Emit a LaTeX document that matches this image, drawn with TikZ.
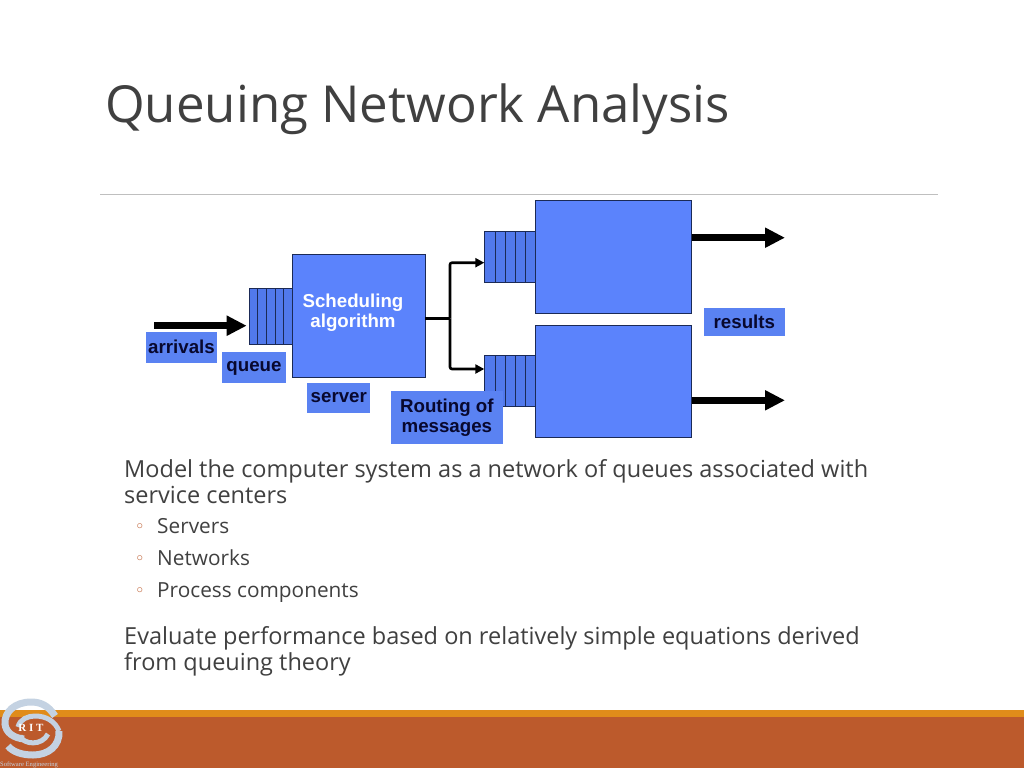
\documentclass[tikz,border=0pt]{standalone}
\usepackage{fontspec}
\setmainfont{Open Sans}
\newfontfamily\labelfont{Liberation Sans}
\newfontfamily\markfont{DejaVu Sans}
\newfontfamily\logofont{Liberation Serif}
\usetikzlibrary{arrows.meta}
\definecolor{boxblue}{HTML}{5B83FC}
\definecolor{queueblue}{HTML}{5179EC}
\definecolor{tagblue}{HTML}{5A82F2}
\definecolor{edgenavy}{HTML}{1B2A56}
\definecolor{tagtext}{HTML}{08082E}
\definecolor{bodygray}{HTML}{404040}
\definecolor{rust}{HTML}{BC5A2C}
\definecolor{bandorange}{HTML}{E08C1A}
\definecolor{logogray}{HTML}{C4D2E2}
\tikzset{
  srvbox/.style={draw=edgenavy,line width=1pt,fill=boxblue,inner sep=0,outer sep=0,anchor=north west},
  qbox/.style={draw=edgenavy,line width=1pt,fill=queueblue,inner sep=0,outer sep=0,anchor=north west},
  tag/.style={fill=tagblue,text=tagtext,inner sep=0,outer sep=0,anchor=north west,align=center,font=\labelfont\bfseries\fontsize{18.7}{20}\selectfont},
  fatarrow/.style={line width=6.5pt,-{Triangle[length=20pt,width=19pt]}},
  thinarrow/.style={line width=2.6pt,-{Triangle[length=9pt,width=9pt]}},
  bodytext/.style={anchor=base west,inner sep=0,text=bodygray,align=left,font=\fontsize{23.5}{26}\selectfont},
  subtext/.style={anchor=base west,inner sep=0,text=bodygray,font=\fontsize{20.8}{24}\selectfont},
  bullet/.style={anchor=base,inner sep=0,text=rust,font=\markfont\fontsize{17}{18}\selectfont},
  logoband/.style={logogray,line width=7pt},
  logoinner/.style={logogray,line width=5pt}
}
\begin{document}
\begin{tikzpicture}[x=1pt,y=-1pt]
\useasboundingbox (0,0) rectangle (1024,768);
\fill[white] (0,0) rectangle (1024,768);
% title
\node[anchor=base west,inner sep=0,text=bodygray,font=\fontsize{51}{56}\selectfont] (title) at (105,122){Queuing Network Analysis};
\draw[color=black!25,line width=1pt] (100,194.5)--(938,194.5);
% footer
\fill[bandorange] (0,710) rectangle (1024,716.5);
\fill[rust] (0,716.5) rectangle (1024,768);
% logo
\draw[logoband] (55,716) .. controls (48,705) and (40,702) .. (31,702) .. controls (15,702) and (4,712) .. (5,724) .. controls (6,733) and (14,738) .. (24,739);
\draw[logoinner] (18,727) .. controls (20,719) and (28,716) .. (35,716) .. controls (46,716) and (55,721) .. (59,731);
\draw[logoband] (59,731) .. controls (60,746) and (48,755) .. (33,755) .. controls (22,755) and (13,752) .. (8,746);
\draw[logoinner] (20,736) .. controls (24,745) and (42,746) .. (48,734);
\node[text=white,inner sep=0,font=\logofont\bfseries\fontsize{11}{12}\selectfont] (rit) at (31,728){R I T};
\node[anchor=base west,text=logogray,inner sep=0,font=\logofont\fontsize{6.6}{8}\selectfont] (dept) at (0,766){Software Engineering};
% servers
\node[srvbox,minimum width=133pt,minimum height=123pt] (srvmain) at (292,254.5){};
\node[srvbox,minimum width=156.5pt,minimum height=112.5pt] (srvtop) at (535,200.7){};
\node[srvbox,minimum width=156.5pt,minimum height=112.5pt] (srvlow) at (535,325){};
\node[text=white,inner sep=0,align=center,font=\labelfont\bfseries\fontsize{18.7}{20}\selectfont] (sched) at (353,313){Scheduling\\algorithm};
% queues
\node[qbox,minimum width=42.7pt,minimum height=56pt] (qmain) at (249.3,288.3){};
\foreach \x in {257.7,266.3,275,283.7}{\draw[edgenavy,line width=.8pt] (\x,288.3)--(\x,344.3);}
\node[qbox,minimum width=50.7pt,minimum height=50.7pt] (qtop) at (484.3,231.3){};
\node[qbox,minimum width=50.7pt,minimum height=50.7pt] (qlow) at (484.3,355.8){};
\foreach \x in {495,505,515,525}{
  \draw[edgenavy,line width=.8pt] (\x,231.3)--(\x,282);
  \draw[edgenavy,line width=.8pt] (\x,355.8)--(\x,406.5);
}
% arrows
\coordinate (inA) at (154,325.7);
\coordinate (inB) at (246.7,325.7);
\draw[fatarrow] (inA)--(inB);
\coordinate (outA) at (785,237.7);
\coordinate (outB) at (785,400.3);
\draw[fatarrow] (srvtop.east |- outA)--(outA);
\draw[fatarrow] (srvlow.east |- outB)--(outB);
\coordinate (split) at (450,318.7);
\coordinate (qtopin) at (484.3,262.7);
\coordinate (qlowin) at (484.3,369);
\draw[line width=2.6pt] (srvmain.east |- split)--(split);
\draw[thinarrow,rounded corners=2pt] (split)|-(qtopin);
\draw[thinarrow,rounded corners=2pt] (split)|-(qlowin);
% labels
\node[tag,minimum width=71pt,minimum height=30.5pt,text height=13pt,text depth=2pt] (arrivals) at (146,332.3){arrivals};
\node[tag,minimum width=64pt,minimum height=30.7pt,text height=13pt,text depth=4pt] (queue) at (222,352){queue};
\node[tag,minimum width=63pt,minimum height=30pt] (server) at (307.3,382.7){server};
\node[tag,minimum width=111.7pt,minimum height=53pt] (routing) at (391,391.3){Routing of\\messages};
\node[tag,minimum width=80.7pt,minimum height=27.7pt] (results) at (704,308){results};
% text
\node[bodytext] (para1) at (124,503){Model the computer system as a network of queues associated with\\service centers};
\node[bullet] (b1) at (140,532){◦};
\node[bullet] (b2) at (140,564){◦};
\node[bullet] (b3) at (140,596){◦};
\node[subtext] (s1) at (157,533){Servers};
\node[subtext] (s2) at (157,565){Networks};
\node[subtext] (s3) at (157,597){Process components};
\node[bodytext] (para2) at (124,670){Evaluate performance based on relatively simple equations derived\\from queuing theory};
\end{tikzpicture}
\end{document}
